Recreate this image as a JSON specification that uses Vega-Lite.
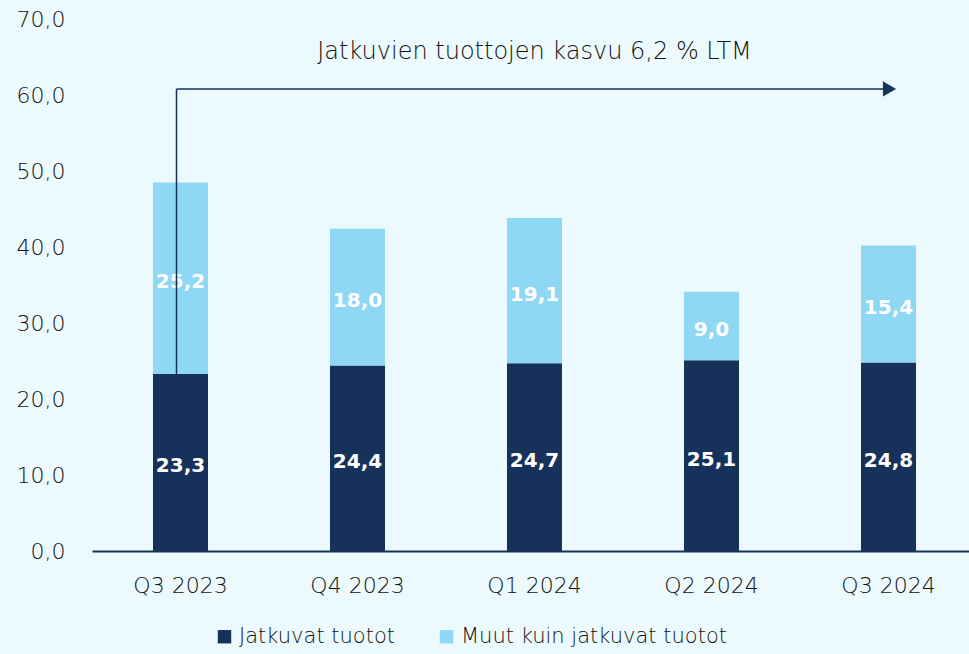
{
  "$schema": "https://vega.github.io/schema/vega-lite/v6.json",
  "width": 885,
  "height": 532,
  "autosize": "none",
  "padding": {"left": 92, "top": 19, "right": 0, "bottom": 103},
  "background": "#ecf9fd",
  "config": {
    "view": {"stroke": null},
    "font": "DejaVu Sans",
    "locale": {"number": {"decimal": ",", "thousands": " ", "grouping": [3], "currency": ["", " €"]}}
  },
  "datasets": {
    "bars": [
      {"kvartaali": "Q3 2023", "sarja": "Jatkuvat tuotot", "arvo": 23.3},
      {"kvartaali": "Q3 2023", "sarja": "Muut kuin jatkuvat tuotot", "arvo": 25.2},
      {"kvartaali": "Q4 2023", "sarja": "Jatkuvat tuotot", "arvo": 24.4},
      {"kvartaali": "Q4 2023", "sarja": "Muut kuin jatkuvat tuotot", "arvo": 18.0},
      {"kvartaali": "Q1 2024", "sarja": "Jatkuvat tuotot", "arvo": 24.7},
      {"kvartaali": "Q1 2024", "sarja": "Muut kuin jatkuvat tuotot", "arvo": 19.1},
      {"kvartaali": "Q2 2024", "sarja": "Jatkuvat tuotot", "arvo": 25.1},
      {"kvartaali": "Q2 2024", "sarja": "Muut kuin jatkuvat tuotot", "arvo": 9.0},
      {"kvartaali": "Q3 2024", "sarja": "Jatkuvat tuotot", "arvo": 24.8},
      {"kvartaali": "Q3 2024", "sarja": "Muut kuin jatkuvat tuotot", "arvo": 15.4}
    ],
    "arrow": [
      {"alku": "Q3 2023", "loppu": "Q3 2024", "pohja": 23.3, "taso": 60.8, "teksti": "Jatkuvien tuottojen kasvu 6,2 % LTM", "tekstix": "Q1 2024", "tekstiy": 65.7}
    ]
  },
  "layer": [
    {
      "data": {"name": "bars"},
      "mark": {"type": "bar", "width": 55},
      "encoding": {
        "x": {"field": "kvartaali", "type": "nominal", "sort": null,
          "scale": {"paddingInner": 0.69, "paddingOuter": 0.345},
          "axis": {"title": null, "labelAngle": 0, "ticks": false, "domainColor": "#16325a", "domainWidth": 2, "labelFontSize": 22, "labelFontWeight": 200, "labelColor": "#111111", "labelPadding": 24}},
        "y": {"field": "arvo", "type": "quantitative", "stack": "zero",
          "scale": {"domain": [0, 70], "nice": false},
          "axis": {"title": null, "values": [0, 10, 20, 30, 40, 50, 60, 70], "format": ".1f", "grid": false, "domain": false, "ticks": false, "labelPadding": 27, "labelFontSize": 22, "labelFontWeight": 200, "labelColor": "#111111"}},
        "color": {"field": "sarja", "type": "nominal",
          "scale": {"domain": ["Jatkuvat tuotot", "Muut kuin jatkuvat tuotot"], "range": ["#16325a", "#8ed8f6"]},
          "legend": {"title": null, "orient": "none", "legendX": 122, "legendY": 607, "direction": "horizontal", "symbolType": "square", "symbolSize": 180, "symbolStrokeWidth": 0, "labelFontSize": 21, "labelFontWeight": 200, "labelColor": "#111111", "labelLimit": 0, "columnPadding": 40, "labelOffset": 4}},
        "order": {"field": "sarja", "sort": "ascending"}
      }
    },
    {
      "data": {"name": "bars"},
      "transform": [
        {"stack": "arvo", "groupby": ["kvartaali"], "sort": [{"field": "sarja", "order": "ascending"}], "as": ["y0", "y1"]},
        {"calculate": "(datum.y0 + datum.y1) / 2", "as": "keski"}
      ],
      "mark": {"type": "text", "color": "white", "fontSize": 20, "fontWeight": "bold", "baseline": "middle", "dy": 4},
      "encoding": {
        "x": {"field": "kvartaali", "type": "nominal", "sort": null},
        "y": {"field": "keski", "type": "quantitative"},
        "text": {"field": "arvo", "type": "quantitative", "format": ".1f"}
      }
    },
    {
      "data": {"name": "arrow"},
      "mark": {"type": "rule", "color": "#16325a", "strokeWidth": 1.5, "xOffset": -4},
      "encoding": {
        "x": {"field": "alku", "type": "nominal", "sort": null},
        "y": {"field": "pohja", "type": "quantitative"},
        "y2": {"field": "taso"}
      }
    },
    {
      "data": {"name": "arrow"},
      "mark": {"type": "rule", "color": "#16325a", "strokeWidth": 1.5, "xOffset": -4, "x2Offset": -4},
      "encoding": {
        "x": {"field": "alku", "type": "nominal", "sort": null},
        "x2": {"field": "loppu"},
        "y": {"field": "taso", "type": "quantitative"}
      }
    },
    {
      "data": {"name": "arrow"},
      "mark": {"type": "point", "shape": "triangle-right", "filled": true, "color": "#16325a", "size": 230, "opacity": 1, "xOffset": 1},
      "encoding": {
        "x": {"field": "loppu", "type": "nominal", "sort": null},
        "y": {"field": "taso", "type": "quantitative"}
      }
    },
    {
      "data": {"name": "arrow"},
      "mark": {"type": "text", "fontSize": 24, "fontWeight": 200, "color": "#111111", "baseline": "middle", "align": "center"},
      "encoding": {
        "x": {"field": "tekstix", "type": "nominal", "sort": null},
        "y": {"field": "tekstiy", "type": "quantitative"},
        "text": {"field": "teksti"}
      }
    }
  ]
}
